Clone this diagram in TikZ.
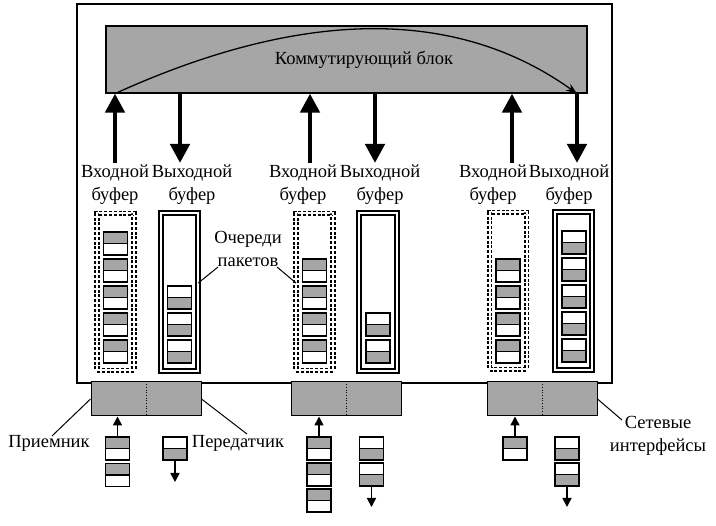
\documentclass[tikz,border=0pt]{standalone}
\usepackage{fontspec}
\setmainfont{Liberation Serif}
\usetikzlibrary{arrows.meta}
\definecolor{fillgray}{RGB}{166,166,166}
\newcommand\gwp[3]{\node[cellg,anchor=north] (#1a) at (#2,#3) {}; \node[cellw,anchor=north] (#1b) at (#1a.south) {};}
\newcommand\wgp[3]{\node[cellw,anchor=north] (#1a) at (#2,#3) {}; \node[cellg,anchor=north] (#1b) at (#1a.south) {};}
\begin{document}
\begin{tikzpicture}[x=1pt,y=-1pt,
  lbl/.style={font=\fontsize{18.5}{23.5}\selectfont, align=center, inner sep=0pt},
  frame/.style={draw, line width=1.5pt},
  swblk/.style={draw, fill=fillgray, line width=1.2pt, minimum width=481pt, minimum height=67pt, inner sep=0pt},
  bigarr/.style={line width=4.5pt, -{Triangle[length=19pt,width=19pt]}},
  inbuf/.style={draw, dash pattern=on 3pt off 1.8pt, double=white, double distance=2pt, line width=1.9pt, minimum width=37pt, minimum height=157pt, inner sep=0pt, outer sep=0pt},
  outbuf/.style={draw, double=white, double distance=2.3pt, line width=1.7pt, minimum width=37.5pt, minimum height=158pt, inner sep=0pt, outer sep=0pt},
  cellg/.style={draw, fill=fillgray, line width=1.8pt, minimum width=24pt, minimum height=11.5pt, inner sep=0pt, outer sep=0pt},
  cellw/.style={cellg, fill=white},
  iface/.style={draw, fill=fillgray, line width=1pt, minimum width=110pt, minimum height=34pt, inner sep=0pt},
  smallarr/.style={line width=1.6pt, -{Triangle[length=9pt,width=9pt]}},
  leader/.style={line width=1pt}]
\useasboundingbox (0,0) rectangle (716,526);
% outer frame
\node[frame, minimum width=535pt, minimum height=379pt, inner sep=0pt] (fr) at (344.5,193.5) {};
% switching block
\node[swblk] (sw) at (346.5,59.5) {};
\node[lbl, anchor=base] (swtxt) at (364,65) {Коммутирующий блок};
% thick arrows
\coordinate (aIn1) at (115,163);
\coordinate (aOut1) at (180,163);
\coordinate (aIn2) at (310,163);
\coordinate (aOut2) at (375,163);
\coordinate (aIn3) at (512,163);
\coordinate (aOut3) at (577,163);
\draw[bigarr] (aIn1) -- (aIn1 |- sw.south);
\draw[bigarr] (aOut1 |- sw.south) -- (aOut1);
\draw[bigarr] (aIn2) -- (aIn2 |- sw.south);
\draw[bigarr] (aOut2 |- sw.south) -- (aOut2);
\draw[bigarr] (aIn3) -- (aIn3 |- sw.south);
\draw[bigarr] (aOut3 |- sw.south) -- (aOut3);
% arc
\draw[line width=1.3pt, -{Stealth[length=11pt,width=8pt]}] (aIn1 |- sw.south) .. controls (265,25.5) and (435,-8) .. (aOut3 |- sw.south);
% labels
\node[lbl, anchor=base] (lin1) at (115,201) {Входной\\буфер};
\node[lbl, anchor=base] (lout1) at (192,201) {Выходной\\буфер};
\node[lbl, anchor=base] (lin2) at (303,201) {Входной\\буфер};
\node[lbl, anchor=base] (lout2) at (380,201) {Выходной\\буфер};
\node[lbl, anchor=base] (lin3) at (493,201) {Входной\\буфер};
\node[lbl, anchor=base] (lout3) at (569,201) {Выходной\\буфер};
% buffers
\node[inbuf] (ibL) at (115.5,292) {};
\node[outbuf] (obL) at (179.5,292) {};
\node[inbuf] (ibM) at (314.5,292) {};
\node[outbuf] (obM) at (378,292) {};
\node[inbuf] (ibR) at (508,291) {};
\node[outbuf] (obR) at (573.5,291) {};
% packets left
\gwp{p11}{115.5}{232} \gwp{p12}{115.5}{259} \gwp{p13}{115.5}{286} \gwp{p14}{115.5}{313} \gwp{p15}{115.5}{340}
\wgp{q13}{179.5}{286} \wgp{q14}{179.5}{313} \wgp{q15}{179.5}{340}
% packets middle
\gwp{p22}{314.5}{259} \gwp{p23}{314.5}{286} \gwp{p24}{314.5}{313} \gwp{p25}{314.5}{340}
\wgp{q24}{378}{313} \wgp{q25}{378}{340}
% packets right
\gwp{p32}{508}{259} \gwp{p33}{508}{286} \gwp{p34}{508}{313} \gwp{p35}{508}{340}
\wgp{q31}{574}{231} \wgp{q32}{574}{258} \wgp{q33}{574}{285} \wgp{q34}{574}{312} \wgp{q35}{574}{339}
% queue label
\node[lbl] (queues) at (248,249) {Очереди\\пакетов};
\coordinate (qL) at (218,267);
\coordinate (qR) at (277,267);
\draw[leader] (qL) -- (obL.east |- 0,283);
\draw[leader] (qR) -- (ibM.west |- 0,283);
% interfaces
\node[iface] (ifL) at (146,399) {};
\node[iface] (ifM) at (346,399) {};
\node[iface] (ifR) at (542,399) {};
\draw[dotted, line width=0.7pt] (ifL.north) -- (ifL.south);
\draw[dotted, line width=0.7pt] (ifM.north) -- (ifM.south);
\draw[dotted, line width=0.7pt] (ifR.north) -- (ifR.south);
% bottom packets
\gwp{lr1}{117.5}{437} \gwp{lr2}{117.5}{463.5}
\wgp{lt1}{175}{437}
\gwp{mr1}{319}{437} \gwp{mr2}{319}{463} \gwp{mr3}{319}{489}
\wgp{mt1}{371.5}{437} \wgp{mt2}{371.5}{463}
\gwp{rr1}{515}{437}
\wgp{rt1}{567}{437} \wgp{rt2}{567}{463}
\draw[smallarr] (lr1a.north) -- (lr1a.north |- ifL.south);
\draw[smallarr] (mr1a.north) -- (mr1a.north |- ifM.south);
\draw[smallarr] (rr1a.north) -- (rr1a.north |- ifR.south);
\coordinate (ltEnd) at (175,482);
\coordinate (mtEnd) at (371.5,507);
\coordinate (rtEnd) at (567,507);
\draw[smallarr] (lt1b.south) -- (ltEnd);
\draw[smallarr] (mt2b.south) -- (mtEnd);
\draw[smallarr] (rt2b.south) -- (rtEnd);
% bottom labels
\node[lbl] (rxlbl) at (49,443) {Приемник};
\node[lbl] (txlbl) at (238,443) {Передатчик};
\node[lbl] (netlbl) at (658,436) {Сетевые\\интерфейсы};
\coordinate (rxL) at (52,436);
\coordinate (txL) at (247,434);
\coordinate (netL) at (622,420);
\draw[leader] (ifL.west) -- (rxL);
\draw[leader] (ifL.east) -- (txL);
\draw[leader] (ifR.east) -- (netL);
\end{tikzpicture}
\end{document}
